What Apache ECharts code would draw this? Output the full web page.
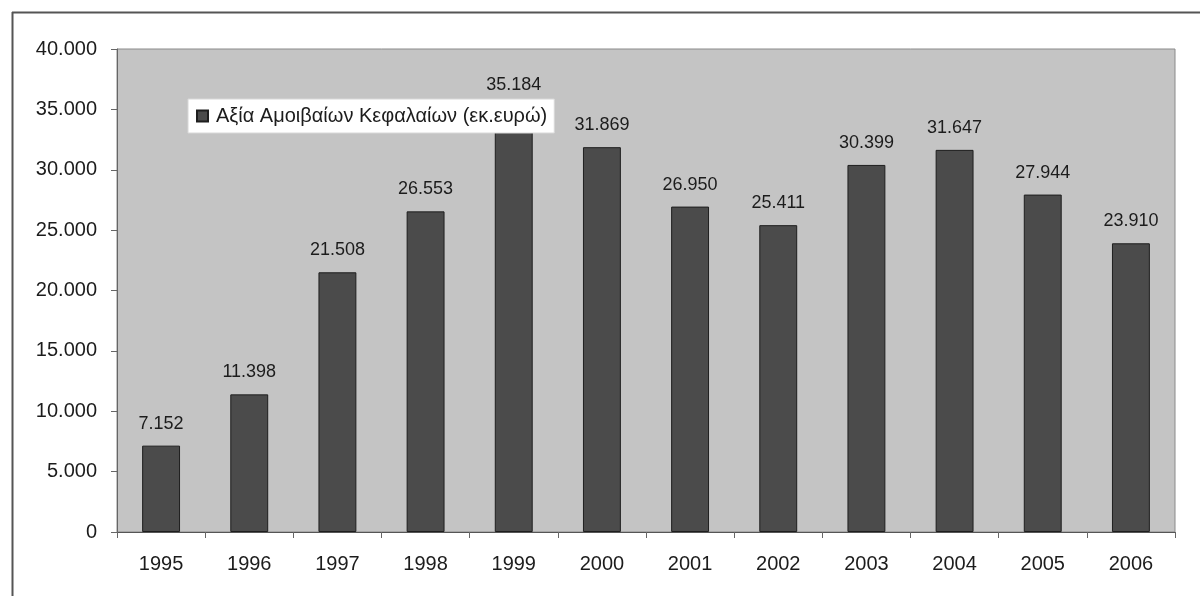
<!DOCTYPE html>
<html>
<head>
<meta charset="utf-8">
<script src="https://cdn.jsdelivr.net/npm/echarts@6/dist/echarts.min.js"></script>
<style>
  html, body { margin: 0; padding: 0; background: #ffffff; }
  #chart { width: 1200px; height: 596px; }
</style>
</head>
<body>
<div id="chart"></div>
<script>
// Mutual fund asset value per year (thousand euros)
const years = ['1995', '1996', '1997', '1998', '1999', '2000', '2001', '2002', '2003', '2004', '2005', '2006'];
const fundValues = [7152, 11398, 21508, 26553, 35184, 31869, 26950, 25411, 30399, 31647, 27944, 23910];
const seriesName = 'Αξία Αμοιβαίων Κεφαλαίων (εκ.ευρώ)';

// Greek-style thousands separator: 35184 -> "35.184"
function fmt(v) {
  return String(Math.round(v)).replace(/\B(?=(\d{3})+(?!\d))/g, '.');
}

const FONT = 'Liberation Sans, Arial, sans-serif';
const TEXT = '#1c1c1c';
const chart = echarts.init(document.getElementById('chart'), null, { renderer: 'canvas' });

chart.setOption({
  animation: false,
  backgroundColor: '#ffffff',
  textStyle: { fontFamily: FONT },
  grid: {
    left: 117, right: 25, top: 49, bottom: 64,
    show: true,
    backgroundColor: '#c4c4c4',
    borderColor: '#8a8a8a',
    borderWidth: 1
  },
  legend: {
    left: 188, top: 99,
    backgroundColor: '#ffffff',
    borderColor: '#d8d8d8',
    borderWidth: 1,
    padding: [7, 7, 7, 8],
    itemWidth: 11, itemHeight: 11,
    itemGap: 5,
    icon: 'rect',
    textStyle: { fontFamily: FONT, fontSize: 20, color: TEXT, padding: [0, 0, 0, 3] },
    data: [seriesName],
    z: 10
  },
  xAxis: {
    type: 'category',
    data: years,
    boundaryGap: true,
    axisLine: { show: true, lineStyle: { color: '#555', width: 1 } },
    axisTick: { show: true, length: 6, lineStyle: { color: '#666' } },
    axisLabel: { fontFamily: FONT, fontSize: 20, color: TEXT, margin: 22 },
    splitLine: { show: false }
  },
  yAxis: {
    type: 'value',
    min: 0, max: 40000, interval: 5000,
    axisLine: { show: true, lineStyle: { color: '#666', width: 1 } },
    axisTick: { show: true, length: 6, inside: false, lineStyle: { color: '#666' } },
    axisLabel: { fontFamily: FONT, fontSize: 20, color: TEXT, margin: 20, formatter: fmt },
    splitLine: { show: false }
  },
  series: [{
    name: seriesName,
    type: 'bar',
    data: fundValues,
    barWidth: '43%',
    itemStyle: { color: '#4b4b4b', borderColor: '#1e1e1e', borderWidth: 1 },
    label: {
      show: true,
      position: 'top',
      distance: 13,
      fontFamily: FONT,
      fontSize: 18,
      color: TEXT,
      formatter: p => fmt(p.value)
    },
    z: 2
  }],
  graphic: [
    { type: 'line', shape: { x1: 12, y1: 12.5, x2: 1200, y2: 12.5 }, style: { stroke: '#555', lineWidth: 2 } },
    { type: 'line', shape: { x1: 12.5, y1: 12, x2: 12.5, y2: 596 }, style: { stroke: '#555', lineWidth: 2 } }
  ]
});
</script>
</body>
</html>
